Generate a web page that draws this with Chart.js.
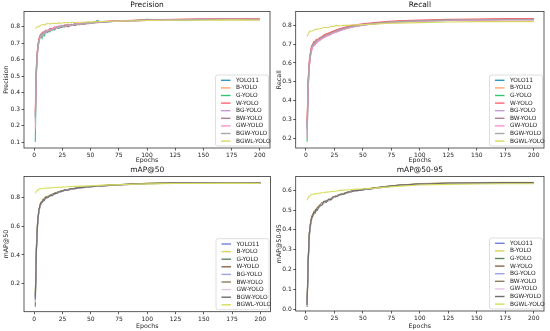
<!DOCTYPE html>
<html>
<head>
<meta charset="utf-8">
<script src="https://cdn.jsdelivr.net/npm/chart.js@4.4.0/dist/chart.umd.min.js"></script>
<style>
  body { margin: 0; background: #fff; }
  .wrap { position: relative; width: 550px; height: 331px; }
  canvas { position: absolute; }
</style>
</head>
<body>
<div class="wrap">
  <canvas id="c1" width="275" height="165" style="left:0;top:0"></canvas>
  <canvas id="c2" width="275" height="165" style="left:275px;top:0"></canvas>
  <canvas id="c3" width="275" height="166" style="left:0;top:165px"></canvas>
  <canvas id="c4" width="275" height="166" style="left:275px;top:165px"></canvas>
</div>
<script>
var models = ["YOLO11", "B-YOLO", "G-YOLO", "W-YOLO", "BG-YOLO", "BW-YOLO", "GW-YOLO", "BGW-YOLO", "BGWL-YOLO"];
var epochs = [1, 2, 3, 4, 5, 6, 7, 8, 9, 10, 12, 14, 16, 18, 20, 22, 24, 27, 30, 33, 36, 40, 44, 48, 52, 56, 60, 70, 80, 100, 125, 150, 175, 200];
var xTicks = [0, 25, 50, 75, 100, 125, 150, 175, 200];

// one row per model, same order as models
var precision = [
  [0.25, 0.55, 0.66, 0.71, 0.74, 0.75, 0.745, 0.76, 0.755, 0.77, 0.765, 0.785, 0.78, 0.795, 0.79, 0.80, 0.795, 0.805, 0.80, 0.812, 0.808, 0.818, 0.815, 0.822, 0.825, 0.838, 0.828, 0.833, 0.835, 0.838, 0.842, 0.845, 0.846, 0.844],
  [0.30, 0.58, 0.67, 0.72, 0.745, 0.755, 0.765, 0.755, 0.77, 0.765, 0.78, 0.775, 0.79, 0.785, 0.80, 0.795, 0.805, 0.80, 0.81, 0.805, 0.815, 0.812, 0.82, 0.818, 0.826, 0.824, 0.83, 0.834, 0.836, 0.84, 0.844, 0.846, 0.848, 0.846],
  [0.10, 0.52, 0.64, 0.70, 0.73, 0.745, 0.73, 0.75, 0.745, 0.765, 0.775, 0.77, 0.785, 0.78, 0.795, 0.79, 0.80, 0.81, 0.805, 0.815, 0.81, 0.82, 0.818, 0.824, 0.822, 0.828, 0.826, 0.832, 0.834, 0.845, 0.84, 0.843, 0.845, 0.845],
  [0.28, 0.56, 0.67, 0.72, 0.745, 0.755, 0.76, 0.77, 0.765, 0.78, 0.775, 0.79, 0.785, 0.80, 0.795, 0.805, 0.80, 0.81, 0.815, 0.81, 0.82, 0.818, 0.825, 0.822, 0.828, 0.83, 0.832, 0.836, 0.838, 0.842, 0.846, 0.848, 0.85, 0.848],
  [0.22, 0.53, 0.65, 0.70, 0.735, 0.75, 0.74, 0.76, 0.77, 0.76, 0.78, 0.775, 0.79, 0.785, 0.80, 0.795, 0.81, 0.805, 0.812, 0.808, 0.818, 0.815, 0.82, 0.825, 0.822, 0.828, 0.83, 0.833, 0.835, 0.839, 0.843, 0.845, 0.846, 0.844],
  [0.26, 0.55, 0.66, 0.71, 0.74, 0.755, 0.75, 0.765, 0.76, 0.775, 0.77, 0.78, 0.79, 0.785, 0.795, 0.80, 0.798, 0.808, 0.803, 0.815, 0.81, 0.82, 0.817, 0.823, 0.826, 0.829, 0.831, 0.834, 0.836, 0.84, 0.844, 0.846, 0.847, 0.845],
  [0.18, 0.50, 0.64, 0.70, 0.73, 0.745, 0.755, 0.75, 0.765, 0.77, 0.78, 0.775, 0.785, 0.795, 0.79, 0.80, 0.805, 0.80, 0.81, 0.808, 0.815, 0.82, 0.818, 0.822, 0.826, 0.827, 0.83, 0.833, 0.835, 0.839, 0.843, 0.845, 0.846, 0.845],
  [0.24, 0.54, 0.655, 0.705, 0.735, 0.75, 0.745, 0.765, 0.76, 0.775, 0.77, 0.785, 0.78, 0.79, 0.80, 0.795, 0.805, 0.80, 0.812, 0.81, 0.817, 0.815, 0.822, 0.82, 0.826, 0.828, 0.83, 0.834, 0.835, 0.84, 0.843, 0.844, 0.845, 0.843],
  [0.79, 0.795, 0.80, 0.80, 0.805, 0.81, 0.812, 0.815, 0.81, 0.815, 0.82, 0.818, 0.82, 0.822, 0.82, 0.824, 0.822, 0.826, 0.825, 0.827, 0.826, 0.828, 0.828, 0.83, 0.83, 0.832, 0.832, 0.834, 0.835, 0.838, 0.84, 0.84, 0.842, 0.84]
];
var recall = [
  [0.25, 0.50, 0.60, 0.65, 0.68, 0.695, 0.70, 0.71, 0.705, 0.72, 0.725, 0.735, 0.74, 0.745, 0.755, 0.752, 0.765, 0.77, 0.778, 0.782, 0.787, 0.795, 0.797, 0.802, 0.806, 0.808, 0.81, 0.815, 0.82, 0.825, 0.83, 0.831, 0.833, 0.833],
  [0.30, 0.52, 0.62, 0.66, 0.69, 0.70, 0.71, 0.705, 0.72, 0.725, 0.73, 0.74, 0.745, 0.75, 0.758, 0.763, 0.768, 0.775, 0.78, 0.786, 0.79, 0.797, 0.80, 0.804, 0.808, 0.81, 0.813, 0.818, 0.822, 0.826, 0.83, 0.832, 0.834, 0.834],
  [0.18, 0.48, 0.59, 0.64, 0.675, 0.69, 0.695, 0.705, 0.71, 0.715, 0.72, 0.73, 0.738, 0.745, 0.75, 0.755, 0.762, 0.768, 0.775, 0.78, 0.785, 0.79, 0.795, 0.80, 0.803, 0.806, 0.809, 0.814, 0.818, 0.822, 0.826, 0.828, 0.83, 0.83],
  [0.28, 0.52, 0.61, 0.66, 0.69, 0.70, 0.715, 0.71, 0.725, 0.72, 0.735, 0.74, 0.75, 0.755, 0.76, 0.765, 0.77, 0.777, 0.783, 0.788, 0.793, 0.80, 0.803, 0.807, 0.81, 0.813, 0.815, 0.82, 0.825, 0.828, 0.832, 0.834, 0.836, 0.836],
  [0.22, 0.47, 0.58, 0.64, 0.67, 0.69, 0.70, 0.695, 0.71, 0.715, 0.725, 0.73, 0.735, 0.745, 0.745, 0.755, 0.76, 0.765, 0.772, 0.778, 0.783, 0.79, 0.795, 0.798, 0.802, 0.806, 0.808, 0.813, 0.818, 0.822, 0.826, 0.828, 0.83, 0.83],
  [0.26, 0.50, 0.60, 0.65, 0.68, 0.70, 0.705, 0.715, 0.71, 0.72, 0.73, 0.737, 0.742, 0.75, 0.752, 0.76, 0.766, 0.772, 0.78, 0.784, 0.79, 0.796, 0.80, 0.803, 0.807, 0.809, 0.812, 0.817, 0.821, 0.825, 0.83, 0.831, 0.833, 0.832],
  [0.20, 0.46, 0.58, 0.635, 0.665, 0.685, 0.69, 0.70, 0.705, 0.71, 0.72, 0.728, 0.735, 0.742, 0.748, 0.752, 0.76, 0.765, 0.773, 0.778, 0.784, 0.79, 0.794, 0.799, 0.803, 0.806, 0.808, 0.814, 0.818, 0.822, 0.826, 0.828, 0.829, 0.829],
  [0.24, 0.49, 0.60, 0.645, 0.68, 0.695, 0.70, 0.71, 0.715, 0.72, 0.728, 0.735, 0.74, 0.748, 0.752, 0.758, 0.764, 0.77, 0.777, 0.782, 0.787, 0.793, 0.797, 0.801, 0.805, 0.808, 0.81, 0.816, 0.82, 0.824, 0.828, 0.83, 0.831, 0.831],
  [0.74, 0.755, 0.765, 0.77, 0.77, 0.772, 0.775, 0.778, 0.78, 0.78, 0.782, 0.785, 0.79, 0.788, 0.79, 0.795, 0.795, 0.80, 0.798, 0.80, 0.80, 0.802, 0.803, 0.804, 0.805, 0.806, 0.807, 0.81, 0.812, 0.815, 0.818, 0.82, 0.82, 0.82]
];
var map50 = [
  [0.10, 0.45, 0.62, 0.70, 0.74, 0.76, 0.77, 0.78, 0.79, 0.80, 0.805, 0.81, 0.82, 0.825, 0.835, 0.838, 0.845, 0.85, 0.855, 0.86, 0.863, 0.868, 0.871, 0.874, 0.877, 0.88, 0.882, 0.886, 0.89, 0.897, 0.90, 0.90, 0.901, 0.901],
  [0.14, 0.48, 0.64, 0.71, 0.75, 0.77, 0.775, 0.79, 0.795, 0.805, 0.81, 0.815, 0.825, 0.83, 0.837, 0.84, 0.847, 0.852, 0.857, 0.862, 0.865, 0.87, 0.873, 0.876, 0.879, 0.881, 0.884, 0.888, 0.891, 0.898, 0.90, 0.901, 0.902, 0.902],
  [0.04, 0.42, 0.60, 0.69, 0.73, 0.755, 0.765, 0.775, 0.785, 0.795, 0.80, 0.808, 0.815, 0.823, 0.83, 0.836, 0.842, 0.848, 0.853, 0.858, 0.862, 0.867, 0.87, 0.873, 0.876, 0.879, 0.881, 0.885, 0.889, 0.896, 0.899, 0.90, 0.90, 0.90],
  [0.12, 0.46, 0.63, 0.70, 0.745, 0.765, 0.772, 0.785, 0.79, 0.802, 0.806, 0.812, 0.822, 0.828, 0.835, 0.84, 0.846, 0.851, 0.856, 0.861, 0.864, 0.869, 0.872, 0.875, 0.878, 0.88, 0.883, 0.887, 0.891, 0.898, 0.901, 0.902, 0.902, 0.902],
  [0.08, 0.44, 0.61, 0.695, 0.735, 0.755, 0.77, 0.775, 0.79, 0.795, 0.805, 0.81, 0.818, 0.825, 0.832, 0.837, 0.843, 0.85, 0.854, 0.859, 0.863, 0.868, 0.871, 0.874, 0.877, 0.879, 0.882, 0.886, 0.889, 0.896, 0.899, 0.90, 0.90, 0.90],
  [0.11, 0.45, 0.62, 0.70, 0.74, 0.76, 0.768, 0.782, 0.788, 0.80, 0.803, 0.812, 0.82, 0.826, 0.834, 0.838, 0.845, 0.85, 0.855, 0.86, 0.864, 0.868, 0.871, 0.875, 0.877, 0.88, 0.882, 0.886, 0.89, 0.897, 0.90, 0.90, 0.901, 0.901],
  [0.07, 0.43, 0.61, 0.69, 0.735, 0.755, 0.765, 0.78, 0.785, 0.797, 0.802, 0.81, 0.817, 0.825, 0.831, 0.837, 0.842, 0.849, 0.853, 0.858, 0.863, 0.867, 0.87, 0.874, 0.876, 0.879, 0.881, 0.885, 0.889, 0.896, 0.899, 0.90, 0.90, 0.90],
  [0.09, 0.44, 0.62, 0.70, 0.74, 0.76, 0.765, 0.785, 0.78, 0.80, 0.798, 0.815, 0.812, 0.83, 0.828, 0.84, 0.84, 0.852, 0.85, 0.862, 0.86, 0.87, 0.868, 0.876, 0.875, 0.881, 0.88, 0.886, 0.89, 0.897, 0.90, 0.90, 0.90, 0.90],
  [0.83, 0.845, 0.85, 0.855, 0.86, 0.861, 0.862, 0.863, 0.864, 0.865, 0.866, 0.867, 0.868, 0.869, 0.87, 0.871, 0.872, 0.873, 0.875, 0.876, 0.877, 0.879, 0.88, 0.881, 0.882, 0.884, 0.885, 0.888, 0.89, 0.895, 0.897, 0.897, 0.898, 0.897]
];
var map5095 = [
  [0.02, 0.25, 0.38, 0.43, 0.46, 0.475, 0.485, 0.495, 0.50, 0.51, 0.52, 0.535, 0.54, 0.545, 0.55, 0.555, 0.565, 0.572, 0.578, 0.583, 0.588, 0.595, 0.598, 0.602, 0.605, 0.608, 0.611, 0.618, 0.624, 0.632, 0.636, 0.638, 0.639, 0.639],
  [0.04, 0.27, 0.39, 0.44, 0.47, 0.48, 0.49, 0.50, 0.505, 0.515, 0.525, 0.538, 0.543, 0.548, 0.553, 0.558, 0.567, 0.574, 0.58, 0.585, 0.59, 0.597, 0.60, 0.604, 0.607, 0.61, 0.613, 0.62, 0.626, 0.634, 0.638, 0.64, 0.641, 0.641],
  [0.01, 0.23, 0.37, 0.42, 0.455, 0.47, 0.48, 0.49, 0.495, 0.505, 0.515, 0.53, 0.537, 0.542, 0.548, 0.553, 0.562, 0.57, 0.576, 0.581, 0.586, 0.593, 0.597, 0.601, 0.604, 0.607, 0.61, 0.617, 0.623, 0.631, 0.635, 0.637, 0.638, 0.638],
  [0.03, 0.26, 0.385, 0.435, 0.465, 0.478, 0.488, 0.498, 0.503, 0.513, 0.523, 0.536, 0.542, 0.547, 0.552, 0.557, 0.566, 0.573, 0.579, 0.584, 0.589, 0.596, 0.599, 0.603, 0.606, 0.609, 0.612, 0.619, 0.625, 0.633, 0.637, 0.639, 0.64, 0.64],
  [0.02, 0.24, 0.375, 0.425, 0.455, 0.47, 0.482, 0.49, 0.498, 0.505, 0.518, 0.53, 0.538, 0.543, 0.549, 0.554, 0.563, 0.571, 0.577, 0.582, 0.587, 0.594, 0.597, 0.601, 0.604, 0.607, 0.61, 0.617, 0.623, 0.631, 0.635, 0.637, 0.638, 0.638],
  [0.025, 0.25, 0.38, 0.43, 0.46, 0.476, 0.486, 0.494, 0.501, 0.51, 0.52, 0.534, 0.54, 0.546, 0.551, 0.556, 0.565, 0.572, 0.578, 0.583, 0.588, 0.595, 0.598, 0.602, 0.605, 0.608, 0.611, 0.618, 0.624, 0.632, 0.636, 0.638, 0.639, 0.639],
  [0.015, 0.235, 0.37, 0.425, 0.455, 0.472, 0.48, 0.492, 0.497, 0.508, 0.517, 0.532, 0.538, 0.544, 0.549, 0.555, 0.563, 0.571, 0.577, 0.582, 0.587, 0.594, 0.597, 0.601, 0.604, 0.607, 0.61, 0.617, 0.623, 0.631, 0.635, 0.637, 0.638, 0.638],
  [0.02, 0.245, 0.38, 0.43, 0.46, 0.47, 0.49, 0.485, 0.505, 0.50, 0.525, 0.525, 0.545, 0.54, 0.556, 0.552, 0.568, 0.568, 0.58, 0.58, 0.59, 0.593, 0.60, 0.60, 0.607, 0.606, 0.613, 0.618, 0.625, 0.632, 0.636, 0.638, 0.639, 0.639],
  [0.55, 0.565, 0.57, 0.575, 0.58, 0.58, 0.581, 0.582, 0.583, 0.585, 0.586, 0.588, 0.589, 0.591, 0.592, 0.594, 0.595, 0.597, 0.60, 0.601, 0.602, 0.604, 0.606, 0.607, 0.608, 0.61, 0.611, 0.616, 0.62, 0.627, 0.63, 0.632, 0.633, 0.633]
];

var topColors = ["#2b9cb8", "#ffa96b", "#2fc76f", "#ff6472", "#c49bd6", "#b27d8c", "#ff8fd0", "#a8a8a8", "#d9d862"];
var bottomColors = ["#6f82d8", "#d8d25c", "#5f855f", "#87684c", "#9ea0e2", "#8b7b5e", "#e6c6e6", "#6c6c6c", "#d6de5c"];

var font = "'DejaVu Sans', sans-serif";

var mplLegend = {
  id: "mplLegend",
  afterDatasetsDraw: function (chart) {
    var ctx = chart.ctx;
    var a = chart.chartArea;
    var w = 53, h = 71, row = 7.6;
    var x = a.right - w - 1.5, y = a.bottom - h - 2;
    ctx.save();
    ctx.fillStyle = "rgba(255,255,255,0.8)";
    ctx.strokeStyle = "#d6d6d6";
    ctx.lineWidth = 0.8;
    ctx.beginPath();
    ctx.roundRect(x, y, w, h, 2);
    ctx.fill();
    ctx.stroke();
    ctx.font = "5.9px " + font;
    ctx.textBaseline = "middle";
    chart.data.datasets.forEach(function (ds, i) {
      var cy = y + 5.3 + i * row;
      ctx.strokeStyle = ds.borderColor;
      ctx.lineWidth = 1.4;
      ctx.beginPath();
      ctx.moveTo(x + 5.5, cy);
      ctx.lineTo(x + 15, cy);
      ctx.stroke();
      ctx.fillStyle = "#222";
      ctx.fillText(ds.label, x + 20.5, cy);
    });
    ctx.restore();
  }
};

var frame = {
  id: "frame",
  afterDraw: function (chart) {
    var a = chart.chartArea;
    var ctx = chart.ctx;
    ctx.save();
    ctx.strokeStyle = "#333";
    ctx.lineWidth = 0.8;
    ctx.strokeRect(a.left, a.top, a.right - a.left, a.bottom - a.top);
    ctx.restore();
  }
};

function makeChart(id, title, yLabel, values, colors, yMin, yMax, yTicks, box) {
  var datasets = models.map(function (m, i) {
    return {
      label: m,
      data: epochs.map(function (e, j) { return { x: e, y: values[i][j] }; }),
      borderColor: colors[i],
      backgroundColor: colors[i],
      borderWidth: 1.1,
      pointRadius: 0,
      tension: 0,
      order: models.length - i
    };
  });
  return new Chart(document.getElementById(id), {
    type: "line",
    data: { datasets: datasets },
    plugins: [mplLegend, frame],
    options: {
      responsive: false,
      animation: false,
      layout: { padding: { top: box.top, right: box.right, left: 0, bottom: 0 } },
      plugins: {
        legend: { display: false },
        tooltip: { enabled: false },
        title: {
          display: true,
          text: title,
          fullSize: false,
          color: "#111",
          font: { family: font, size: 7.5, weight: "normal" },
          padding: { top: 0, bottom: 1.5 }
        }
      },
      scales: {
        x: {
          type: "linear",
          min: -9,
          max: 209,
          afterBuildTicks: function (s) { s.ticks = xTicks.map(function (v) { return { value: v }; }); },
          afterFit: function (s) { s.height = box.xh; },
          ticks: { color: "#222", font: { family: font, size: 6 }, padding: 1.5, maxRotation: 0, autoSkip: false },
          grid: { drawOnChartArea: false, color: "#333", tickLength: 2.5, tickWidth: 0.8 },
          border: { display: false },
          title: { display: true, text: "Epochs", color: "#222", font: { family: font, size: 6.3 }, padding: { top: 0, bottom: 0.5 } }
        },
        y: {
          min: yMin,
          max: yMax,
          afterBuildTicks: function (s) { s.ticks = yTicks.map(function (v) { return { value: v }; }); },
          afterFit: function (s) { s.width = box.left; },
          ticks: {
            color: "#222", font: { family: font, size: 6 }, padding: 1.5, autoSkip: false,
            callback: function (v) { return v.toFixed(1); }
          },
          grid: { drawOnChartArea: false, color: "#333", tickLength: 2.5, tickWidth: 0.8 },
          border: { display: false },
          title: { display: true, text: yLabel, color: "#222", font: { family: font, size: 6.3 }, padding: { top: box.ytp, bottom: 0 } }
        }
      }
    }
  });
}

makeChart("c1", "Precision", "Precision", precision, topColors, 0.064, 0.893,
  [0.1, 0.2, 0.3, 0.4, 0.5, 0.6, 0.7, 0.8], { top: 1, right: 5, left: 24, xh: 17, ytp: 3 });
makeChart("c2", "Recall", "Recall", recall, topColors, 0.147, 0.874,
  [0.2, 0.3, 0.4, 0.5, 0.6, 0.7, 0.8], { top: 1, right: 6, left: 20.7, xh: 17, ytp: 1 });
makeChart("c3", "mAP@50", "mAP@50", map50, bottomColors, 0.005, 0.946,
  [0.2, 0.4, 0.6, 0.8], { top: 1, right: 4.5, left: 24, xh: 19.3, ytp: 3 });
makeChart("c4", "mAP@50-95", "mAP@50-95", map5095, bottomColors, -0.01, 0.67,
  [0.0, 0.1, 0.2, 0.3, 0.4, 0.5, 0.6], { top: 1, right: 6, left: 20.7, xh: 20, ytp: 1 });
</script>
</body>
</html>
